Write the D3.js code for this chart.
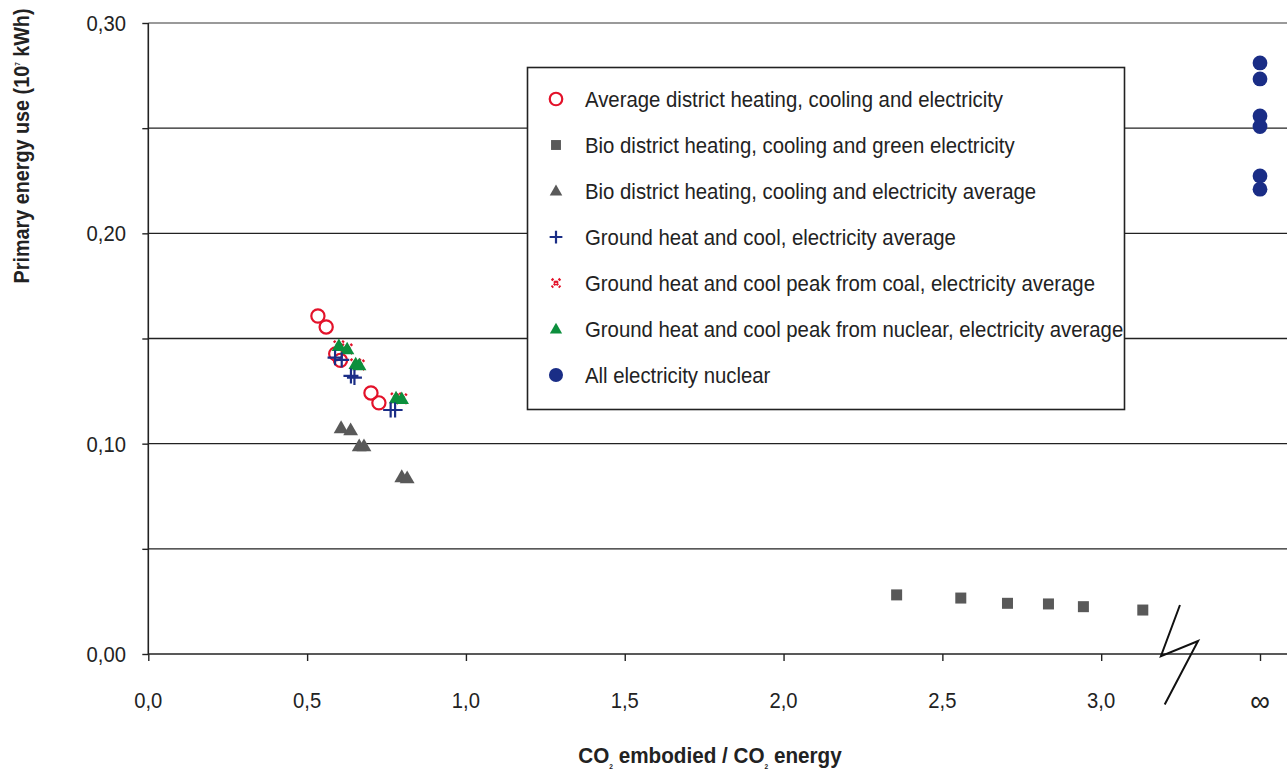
<!DOCTYPE html>
<html><head><meta charset="utf-8">
<script src="https://cdn.jsdelivr.net/npm/d3@7"></script>
<style>
body{margin:0;background:#fff;}
svg{display:block;}
text{font-family:"Liberation Sans",Arial,sans-serif;fill:#222;}
</style></head>
<body><svg id="c" width="1287" height="769"></svg>
<script>
// ---- data ----
const xTickValues = [0, 0.5, 1.0, 1.5, 2.0, 2.5, 3.0, 3.5];
const xTickLabels = ["0,0", "0,5", "1,0", "1,5", "2,0", "2,5", "3,0", "\u221E"];
const yTickValues = [0, 0.05, 0.10, 0.15, 0.20, 0.25, 0.30];
const yLabelValues = [0, 0.10, 0.20, 0.30];
const yTickLabels = ["0,00", "0,10", "0,20", "0,30"];

const avgDistrictX = [0.534, 0.560, 0.590, 0.605, 0.701, 0.726];
const avgDistrictY = [0.1607, 0.1555, 0.1427, 0.1396, 0.1241, 0.1194];

const bioGreenX = [2.356, 2.558, 2.705, 2.834, 2.944, 3.131];
const bioGreenY = [0.0281, 0.0266, 0.0241, 0.0238, 0.0225, 0.0209];

const bioAvgX = [0.607, 0.637, 0.664, 0.679, 0.798, 0.815];
const bioAvgY = [0.1075, 0.1065, 0.0989, 0.0989, 0.0842, 0.0837];

const groundX = [0.588, 0.609, 0.638, 0.649, 0.763, 0.777];
const groundY = [0.1409, 0.1398, 0.1322, 0.1314, 0.1160, 0.1160];

const coalPeakX = [0.600, 0.626, 0.653, 0.664, 0.780, 0.798];
const coalPeakY = [0.1465, 0.1450, 0.1379, 0.1374, 0.1217, 0.1213];

const nuclearPeakX = [0.600, 0.626, 0.653, 0.664, 0.780, 0.798];
const nuclearPeakY = [0.1465, 0.1450, 0.1379, 0.1374, 0.1217, 0.1213];

const allNuclearX = [3.5, 3.5, 3.5, 3.5, 3.5, 3.5];
const allNuclearY = [0.2810, 0.2734, 0.2558, 0.2508, 0.2273, 0.2210];

const seriesNames = [
  "Average district heating, cooling and electricity",
  "Bio district heating, cooling and green electricity",
  "Bio district heating, cooling and electricity average",
  "Ground heat and cool, electricity average",
  "Ground heat and cool peak from coal, electricity average",
  "Ground heat and cool peak from nuclear, electricity average",
  "All electricity nuclear"
];

// axis-break zigzag (data coords)
const breakX = [3.248, 3.188, 3.305, 3.200];
const breakY = [0.0233, -0.0010, 0.0062, -0.0240];

// ---- chart ----
const W = 1287, H = 769;
const svg = d3.select("#c");
const x = d3.scaleLinear().domain([0, 3.5]).range([148.3, 1260]);
const y = d3.scaleLinear().domain([0, 0.30]).range([654, 23]);
const xRight = W;

// gridlines
svg.append("g").selectAll("line").data(yTickValues.filter(v => v > 0)).join("line")
  .attr("x1", x(0)).attr("x2", xRight)
  .attr("y1", d => y(d)).attr("y2", d => y(d))
  .attr("stroke", d => Math.abs(d - 0.30) < 1e-9 ? "#9a9a9a" : "#222")
  .attr("stroke-width", d => Math.abs(d - 0.30) < 1e-9 ? 2 : 1.4);

// y axis
const yAxis = d3.axisLeft(y).tickValues(yTickValues).tickSize(6).tickFormat("");
const gy = svg.append("g").attr("transform", `translate(${x(0)},0)`).call(yAxis);
gy.select(".domain").attr("stroke", "#222").attr("stroke-width", 1.6).attr("d", `M-0,${y(0.30)}V${y(0)}`);
gy.selectAll(".tick line").attr("stroke", "#222").attr("stroke-width", 1.4);
svg.append("g").selectAll("text").data(yLabelValues).join("text")
  .attr("transform", d => `translate(126,${y(d)}) scale(0.92,1)`).attr("dy", "0.36em")
  .attr("text-anchor", "end").attr("font-size", 22)
  .text((d, i) => yTickLabels[i]);

// x axis
const xAxis = d3.axisBottom(x).tickValues(xTickValues).tickSize(7).tickFormat("");
const gx = svg.append("g").attr("transform", `translate(0,${y(0)})`).call(xAxis);
gx.select(".domain").attr("stroke", "#222").attr("stroke-width", 1.6).attr("d", `M${x(0)},0H${xRight}`);
gx.selectAll(".tick line").attr("stroke", "#222").attr("stroke-width", 1.4);
svg.append("g").selectAll("text").data(xTickValues).join("text")
  .attr("transform", d => `translate(${x(d)},700) scale(0.92,1)`).attr("dy", "0.36em")
  .attr("text-anchor", "middle").attr("font-size", (d, i) => i === xTickValues.length - 1 ? 30 : 22)
  .text((d, i) => xTickLabels[i]);

// axis break
svg.append("path")
  .attr("d", d3.line().x((d, i) => x(breakX[i])).y((d, i) => y(breakY[i]))(breakX))
  .attr("fill", "none").attr("stroke", "#111").attr("stroke-width", 2);

// axis titles
const yt = svg.append("text").attr("transform", `translate(29,146) rotate(-90) scale(0.9,1)`)
  .attr("text-anchor", "middle").attr("font-weight", "bold").attr("font-size", 22);
yt.append("tspan").text("Primary energy use (10");
yt.append("tspan").attr("font-size", 7).attr("dy", -9).text("7");
yt.append("tspan").attr("dy", 9).text(" kWh)");

const xt = svg.append("text").attr("transform", `translate(710,763) scale(0.94,1)`)
  .attr("text-anchor", "middle").attr("font-weight", "bold").attr("font-size", 22);
xt.append("tspan").text("CO");
xt.append("tspan").attr("font-size", 7).attr("dy", 6).text("2");
xt.append("tspan").attr("dy", -6).text(" embodied / CO");
xt.append("tspan").attr("font-size", 7).attr("dy", 6).text("2");
xt.append("tspan").attr("dy", -6).text(" energy");

// symbols
const RED = "#e3122a", GRAY = "#595959", BLUE = "#1a2d86", GREEN = "#0c8f3d";
function drawSymbol(g, type, s) {
  if (type === "circleOpen") g.append("circle").attr("r", 6.6 * s).attr("fill", "none").attr("stroke", RED).attr("stroke-width", 2.2);
  else if (type === "square") g.append("rect").attr("x", -5.5 * s).attr("y", -5.5 * s).attr("width", 11 * s).attr("height", 11 * s).attr("fill", GRAY);
  else if (type === "triGray") g.append("path").attr("d", d3.symbol(d3.symbolTriangle, 95 * s * s)()).attr("fill", GRAY).attr("transform", `translate(0,${1 * s})`);
  else if (type === "plus") g.append("path").attr("d", `M${-7.5 * s},0H${7.5 * s}M0,${-7.5 * s}V${7.5 * s}`).attr("stroke", BLUE).attr("stroke-width", 2.2);
  else if (type === "cross") g.append("path").attr("d", `M${-5 * s},${-5 * s}L${5 * s},${5 * s}M${5 * s},${-5 * s}L${-5 * s},${5 * s}`).attr("stroke", RED).attr("stroke-width", 2.6).attr("stroke-dasharray", "2.2,1.2");
  else if (type === "triGreen") g.append("path").attr("d", d3.symbol(d3.symbolTriangle, 90 * s * s)()).attr("fill", GREEN).attr("transform", `translate(0,${1 * s})`);
  else if (type === "dot") g.append("circle").attr("r", 7.4 * s).attr("fill", BLUE);
}

const series = [
  {xs: avgDistrictX, ys: avgDistrictY, type: "circleOpen"},
  {xs: bioGreenX, ys: bioGreenY, type: "square"},
  {xs: bioAvgX, ys: bioAvgY, type: "triGray"},
  {xs: groundX, ys: groundY, type: "plus"},
  {xs: coalPeakX, ys: coalPeakY, type: "cross"},
  {xs: nuclearPeakX, ys: nuclearPeakY, type: "triGreen"},
  {xs: allNuclearX, ys: allNuclearY, type: "dot"}
];
const drawOrder = [2, 1, 0, 4, 5, 3, 6];
drawOrder.forEach(si => {
  const s = series[si];
  s.xs.forEach((xv, i) => {
    const g = svg.append("g").attr("transform", `translate(${x(xv)},${y(s.ys[i])})`);
    drawSymbol(g, s.type, 1);
  });
});

// legend
const legendScale = [0.95, 0.9, 0.85, 0.85, 0.85, 0.85, 0.95];
const lg = svg.append("g");
lg.append("rect").attr("x", 527.5).attr("y", 67.5).attr("width", 597).attr("height", 342)
  .attr("fill", "#fff").attr("stroke", "#222").attr("stroke-width", 1.6);
seriesNames.forEach((name, i) => {
  const cy = 99 + i * 46;
  const g = lg.append("g").attr("transform", `translate(556,${cy})`);
  drawSymbol(g, series[i].type, legendScale[i]);
  lg.append("text").attr("transform", `translate(585,${cy}) scale(0.885,1)`).attr("dy", "0.36em").attr("font-size", 23).text(name);
});
</script></body></html>
